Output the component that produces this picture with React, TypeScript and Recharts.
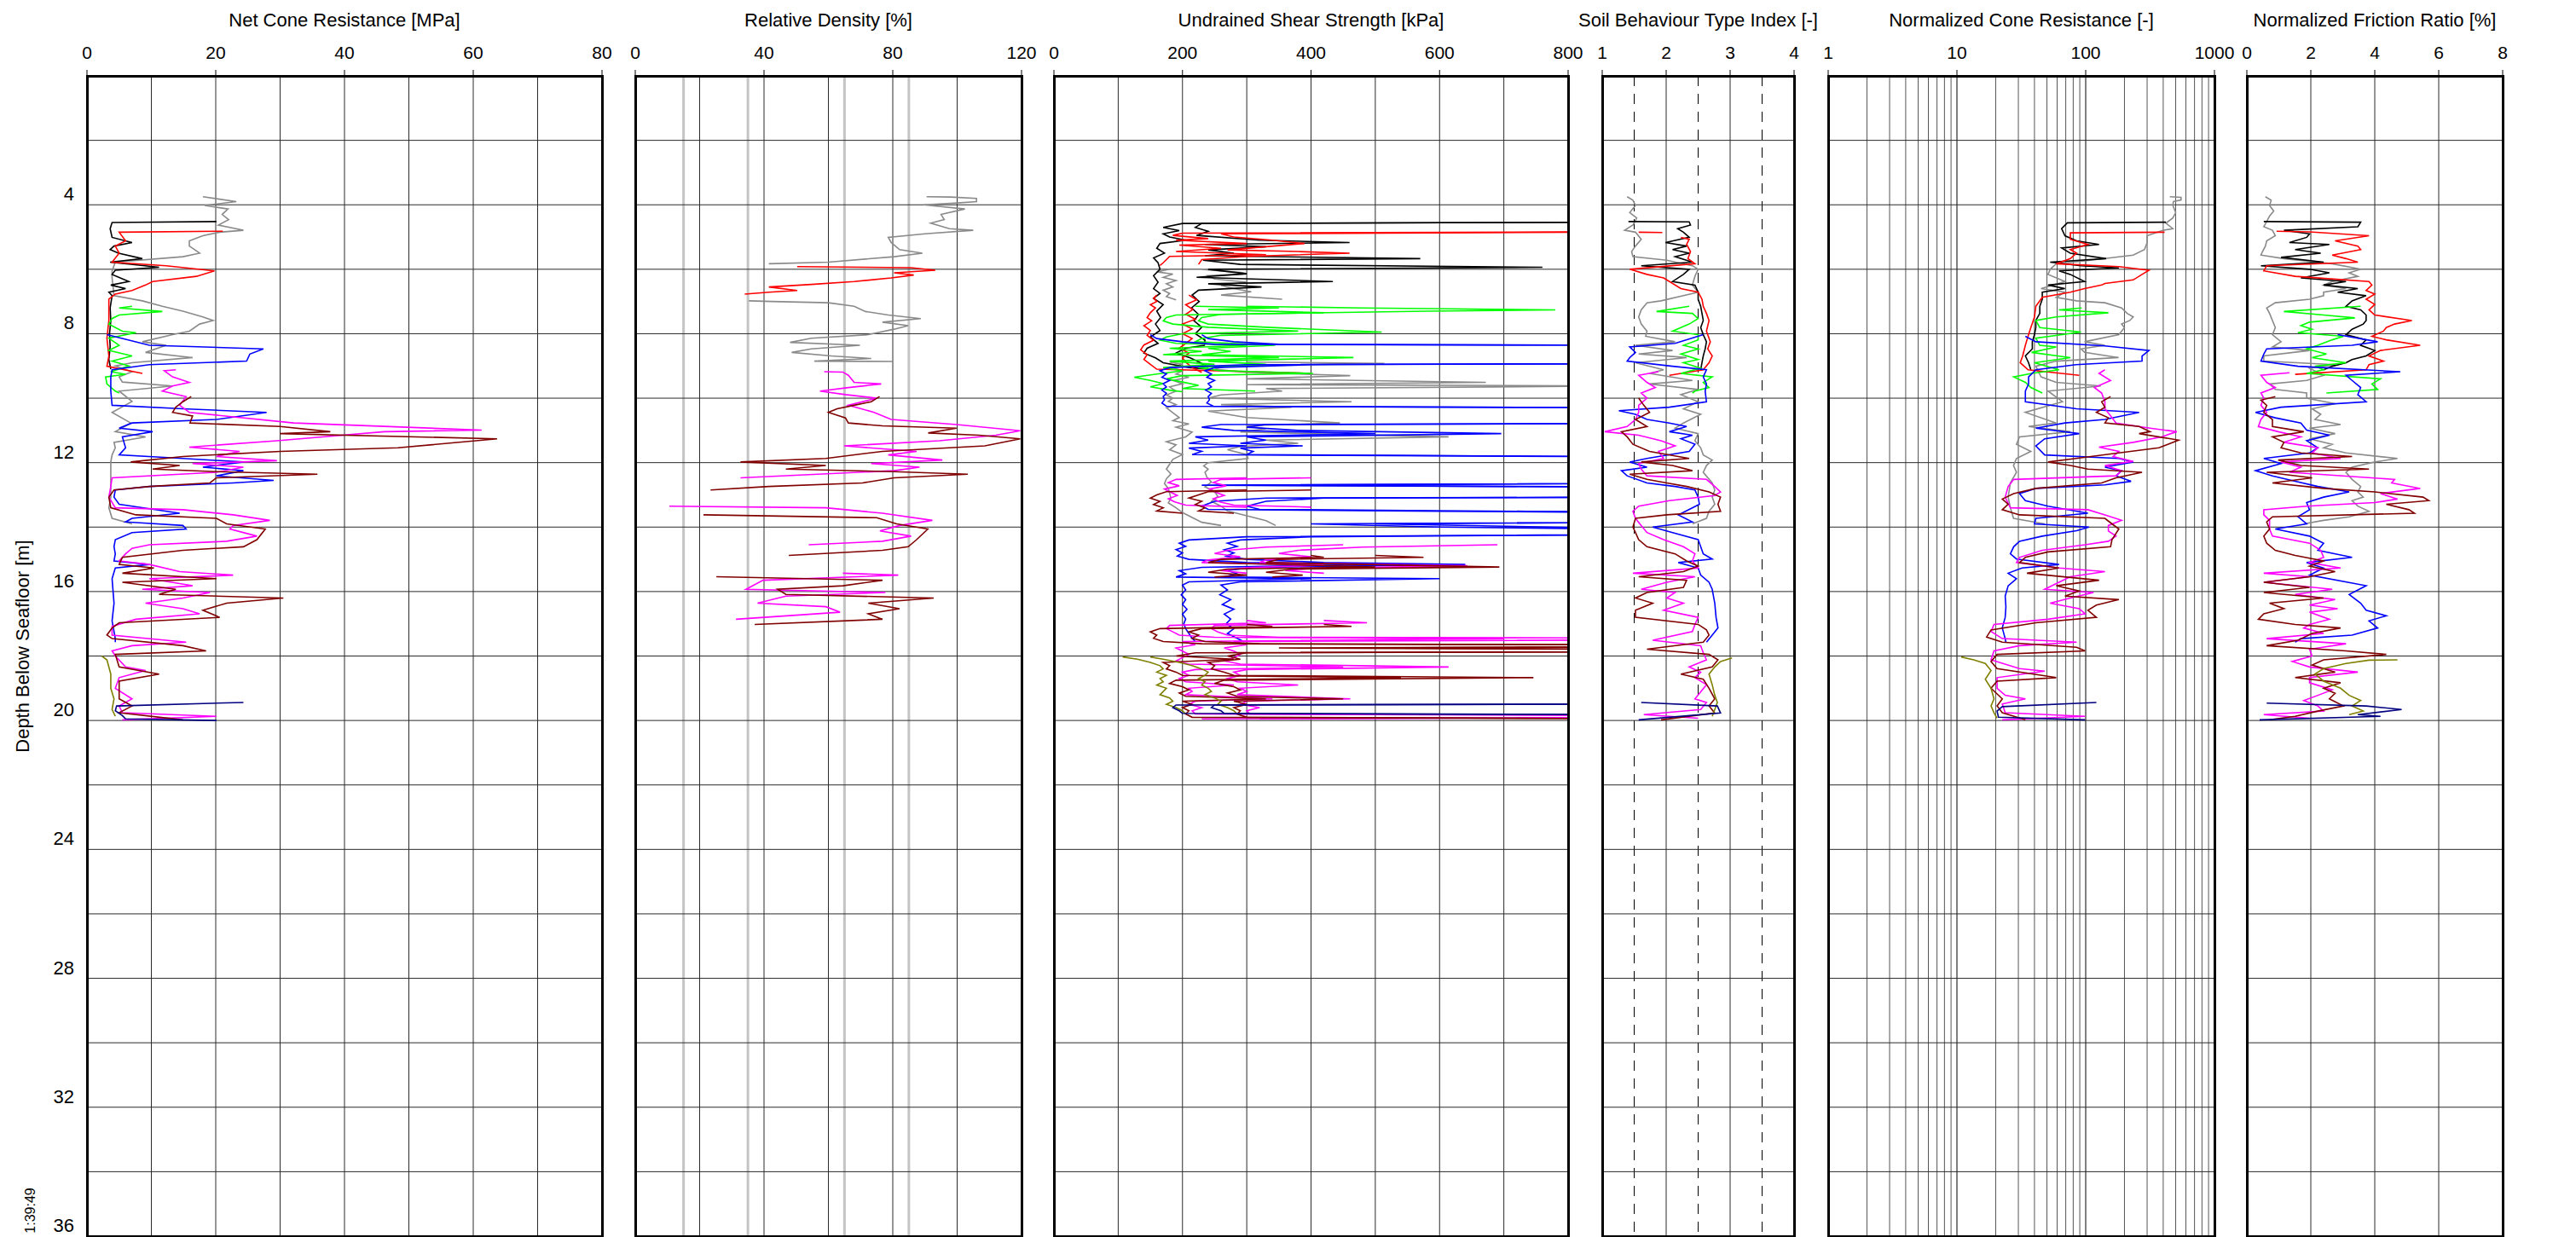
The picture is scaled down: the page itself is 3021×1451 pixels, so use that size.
import React from 'react';
import { LineChart, Line, XAxis, YAxis, ReferenceLine } from 'recharts';

type Pt = [number, number | null];

// ---------- Net Cone Resistance [MPa] ----------
const qnGrey: Pt[] = [[3.75,18],[3.9,23.2],[4.02,18.3],[4.13,21.9],[4.3,21],[4.46,22],[4.63,20.4],[4.79,24.3],[4.85,20.6],[4.96,18],[5.12,15.9],[5.28,15.9],[5.5,17.5],[5.61,14.9],[5.78,4.4],[6.05,3.9],[6.27,3.9],[6.82,4.2],[6.98,8.6],[7.15,11.7],[7.3,14.9],[7.48,18],[7.59,19.6],[7.7,17.5],[7.92,15.9],[8.03,13.3],[8.25,8.6],[8.36,12.3],[8.58,9.1],[8.74,16.4],[8.9,7],[9.0,4.4],[9.18,7],[9.34,5],[9.5,5.5],[9.62,13.3],[9.78,5],[10.1,7],[10.44,3.9],[10.77,6.8],[11.04,4.4],[11.2,9.1],[11.37,4.2],[11.54,4.4],[11.76,3.9],[11.98,3.7],[12.5,3.7],[13.07,3.7],[13.4,3.4],[13.73,3.9],[13.9,7.0]];
const qnBlack: Pt[] = [[4.52,20.1],[4.55,3.9],[4.74,3.6],[5.01,3.9],[5.17,7],[5.28,4.2],[5.39,3.6],[5.5,4.9],[5.67,8.6],[5.78,3.6],[5.94,11.2],[6.03,4.4],[6.16,3.9],[6.38,6.5],[6.49,3.7],[6.6,6],[6.71,3.4],[6.82,3.9],[7.2,3.6],[7.6,3.7],[8.0,3.5],[8.4,3.6],[8.8,3.4],[9.1,3.7]];
const qnRed: Pt[] = [[4.82,21.1],[4.85,5],[5.12,6],[5.28,4.4],[5.5,5],[5.78,3.9],[5.89,12.3],[6.05,19.8],[6.22,17],[6.38,10.2],[6.49,9.1],[6.66,7],[6.77,4.4],[6.93,3.4],[7.59,3.4],[8.14,3.1],[8.69,3.4],[9.01,3.1],[9.23,8.6]];
const qnGreen: Pt[] = [[7.15,7],[7.2,5],[7.31,11.7],[7.42,5],[7.53,3.9],[7.7,3.4],[7.92,5.5],[7.97,7.6],[8.14,3.4],[8.36,5],[8.52,3.4],[8.69,7],[8.85,3.9],[9.0,6.5],[9.18,3.7],[9.26,6],[9.34,2.9],[9.56,3.1],[9.78,4.4],[9.84,5]];
const qnBlue: Pt[] = [[8.03,3.1],[8.36,9.7],[8.47,27.4],[8.63,25.3],[8.85,24.8],[8.96,9.7],[9.12,3.9],[9.34,3.7],[9.78,3.7],[10.22,3.9],[10.33,14.9],[10.44,27.9],[10.66,20.1],[10.77,7],[10.93,5],[11.04,10.2],[11.2,5.5],[11.54,6],[11.76,5],[11.87,14.9],[11.98,24.3],[12.14,18],[12.25,24.3],[12.41,20.1],[12.55,29],[12.63,22.7],[12.74,9.7],[12.85,4.4],[13.07,4.2],[13.29,5],[13.57,14.4],[13.73,7],[13.84,6],[13.95,14.9],[14.06,15.4],[14.17,7],[14.39,4.4],[14.61,4.2],[14.83,4.4],[15.05,4.2],[15.16,9.7],[15.27,4.4],[15.6,3.9],[16.36,4.2],[16.91,3.9],[17.46,4.4],[17.57,4.4]];
const qnNavy: Pt[] = [[19.44,24.3],[19.55,4.6],[19.7,4.4],[19.85,5.5],[19.95,6],[20.0,20.1]];
const qnMagenta: Pt[] = [[9.12,13.8],[9.15,12],[9.34,13.3],[9.51,15.9],[9.62,13.3],[9.78,11.7],[9.95,15.4],[10.22,14.4],[10.44,15.9],[10.77,32.1],[10.99,61.3],[11.04,46.2],[11.32,29.5],[11.52,15.9],[11.65,23.7],[11.81,20.1],[11.94,29.5],[12.03,16.4],[12.14,24.3],[12.3,20.1],[12.47,3.9],[12.74,3.7],[13.07,3.4],[13.4,4.4],[13.46,14.9],[13.62,22.7],[13.79,28.4],[13.95,22.7],[14.06,22.2],[14.28,26.4],[14.44,21.7],[14.55,9.7],[14.66,7],[14.83,6],[15.05,5],[15.16,9.7],[15.38,14.4],[15.49,22.7],[15.6,9.7],[15.82,16.4],[15.93,8.6],[16.03,19.1],[16.2,14.9],[16.36,9.1],[16.53,14.9],[16.69,17.5],[16.86,7.6],[17.08,3.9],[17.35,3.9],[17.57,15.4],[17.68,7],[17.84,3.9],[18.0,4.4],[18.34,6],[18.45,9.1],[18.67,5],[19.0,4.4],[19.33,7],[19.55,5],[19.76,5.5],[19.87,20.1],[19.98,5.5]];
const qnMaroon: Pt[] = [[9.95,16.2],[10.11,14.9],[10.28,13.8],[10.44,13.3],[10.55,16.4],[10.77,16],[10.88,30],[11.04,37.8],[11.1,30],[11.26,63.7],[11.54,48.3],[11.65,30],[11.81,14.9],[11.98,6.8],[12.09,14.4],[12.2,10.2],[12.28,20.1],[12.36,35.8],[12.47,20.1],[12.63,19.1],[12.74,9.7],[12.85,4.2],[13.07,3.4],[13.4,3.7],[13.62,7.6],[13.73,20.1],[13.9,21.7],[14.06,27.7],[14.39,26.4],[14.61,24.3],[14.72,14.9],[14.94,5.5],[15.16,5],[15.27,10.4],[15.43,5.5],[15.6,20.1],[15.71,5.5],[15.93,13.8],[16.09,11.2],[16.2,30.5],[16.36,21.7],[16.58,18],[16.8,20.6],[16.97,5],[17.13,3.9],[17.35,3.1],[17.46,3.9],[17.68,14.9],[17.84,18.5],[17.95,4.4],[18.34,5],[18.56,11.2],[18.78,5],[19.33,5],[19.55,7],[19.76,5],[19.98,14.9]];
const qnOlive: Pt[] = [[18.0,2.3],[18.12,3.1],[18.56,3.7],[19.0,3.7],[19.33,4.2],[19.66,3.9],[19.87,4.4]];

// ---------- Relative Density [%] ----------
const drGrey: Pt[] = [[3.75,90.5],[3.76,98],[3.8,106],[3.9,106],[3.95,99],[4.0,89.6],[4.13,102.4],[4.3,95],[4.46,96],[4.57,91.8],[4.74,97.6],[4.79,105],[4.9,90],[5.01,78.6],[5.17,79.5],[5.39,82.1],[5.5,89.2],[5.61,80.4],[5.78,60],[5.83,41.5],[5.85,null],[6.98,35.3],[7.0,42.4],[7.04,60],[7.15,68],[7.31,71.5],[7.42,78.6],[7.53,88.7],[7.64,76.8],[7.75,84.8],[7.86,80.4],[8.03,72.4],[8.14,54.7],[8.27,48.1],[8.36,69.8],[8.47,54.7],[8.58,48.6],[8.69,60.9],[8.77,73.3],[8.85,55.6],[8.86,80]];
const drRed: Pt[] = [[5.92,50.3],[5.95,85.7],[6.03,93.2],[6.11,80.4],[6.18,86.5],[6.27,79.5],[6.38,68],[6.47,54.7],[6.55,41.5],[6.66,50.3],[6.71,41.5],[6.77,34]];
const drMagenta: Pt[] = [[9.18,58.7],[9.19,64.5],[9.29,66.2],[9.51,68],[9.56,76.4],[9.67,66.2],[9.78,57.4],[9.89,65.3],[10.0,75],[10.22,66.2],[10.44,74.2],[10.66,79.5],[10.82,99.8],[11.01,119.6],[11.15,112],[11.32,94.5],[11.48,64.9],[11.65,87.4],[11.76,78.6],[11.92,95.4],[12.03,73.3],[12.14,88.3],[12.25,80.4],[12.47,32.7],[12.55,null],[13.35,10.6],[13.4,59.2],[13.57,76.8],[13.79,92.3],[13.95,82.1],[14.12,76],[14.28,85.7],[14.44,76.8],[14.55,53.9],[14.6,null],[15.43,64.5],[15.49,81.7],[15.65,39.7],[15.93,34.4],[16.03,77.7],[16.14,46.8],[16.36,38],[16.47,59.2],[16.64,63.6],[16.86,31.3]];
const drMaroon: Pt[] = [[9.95,75.9],[10.11,73.3],[10.22,68],[10.33,62.7],[10.44,60],[10.61,65.3],[10.77,66.2],[10.86,76.8],[10.93,99.8],[11.08,91],[11.15,106.8],[11.26,119.6],[11.48,108.6],[11.65,76.8],[11.87,59.2],[11.98,32.7],[12.09,59.2],[12.2,46.8],[12.28,80.4],[12.36,103.3],[12.47,80.4],[12.63,70.6],[12.74,41.5],[12.85,23.4],[12.9,null],[13.62,21.2],[13.71,75],[13.9,81.2],[14.06,90.9],[14.39,87.4],[14.61,84.8],[14.72,76.8],[14.88,47.7],[14.95,null],[15.54,25.2],[15.65,76.8],[15.82,64.5],[15.93,44.2],[16.09,46.8],[16.2,92.7],[16.36,72.4],[16.53,82.1],[16.69,72.4],[16.86,76.8],[17.02,37.1]];

// ---------- Undrained Shear Strength [kPa] (two estimates per test) ----------
const suBlackLo: Pt[] = [[4.52,1200],[4.58,200],[4.7,170],[4.8,195],[4.9,170],[5.0,180],[5.1,205],[5.2,165],[5.35,160],[5.5,172],[5.65,155],[5.8,162],[6.0,165],[6.2,155],[6.4,162],[6.6,155],[6.75,165],[6.9,155],[7.1,170],[7.3,160],[7.5,166],[7.7,158],[7.9,165],[8.1,150],[8.3,162],[8.45,145],[8.6,140],[8.75,158],[8.9,170],[9.05,210],[9.1,240]];
const suBlackHi: Pt[] = [[4.52,1200],[4.58,230],[4.7,220],[4.82,240],[4.95,222],[5.1,320],[5.17,460],[5.23,235],[5.3,330],[5.4,240],[5.5,280],[5.58,235],[5.67,570],[5.72,232],[5.85,290],[5.94,760],[6.0,240],[6.14,300],[6.25,222],[6.38,434],[6.45,240],[6.55,323],[6.65,225],[6.8,215],[7.0,226],[7.2,214],[7.4,225],[7.6,218],[7.8,230],[8.0,220],[8.2,235],[8.36,234],[8.45,205],[8.6,190],[8.75,212],[8.9,228],[9.05,240]];
const suRedLo: Pt[] = [[4.82,1200],[4.88,200],[4.95,185],[5.05,240],[5.1,190],[5.2,300],[5.25,195],[5.35,260],[5.45,190],[5.55,330],[5.6,180],[5.7,175],[5.8,170],[5.88,165],[5.9,null],[6.8,160],[6.9,155],[7.0,160],[7.1,150],[7.2,158],[7.35,150],[7.5,145],[7.6,152],[7.75,140],[7.9,150],[8.05,145],[8.2,155],[8.35,140],[8.5,135],[8.65,145],[8.8,140],[8.95,150],[9.1,160],[9.23,400]];
const suRedHi: Pt[] = [[4.82,1200],[4.9,260],[5.0,280],[5.1,340],[5.2,390],[5.3,330],[5.4,270],[5.45,380],[5.5,460],[5.6,300],[5.7,230],[5.85,225],[5.9,null],[6.8,210],[6.95,222],[7.1,205],[7.25,216],[7.4,205],[7.55,220],[7.7,200],[7.85,215],[8.0,200],[8.15,215],[8.3,205],[8.45,195],[8.6,210],[8.75,200],[8.9,206],[9.05,215],[9.2,230]];
const suGreyLo: Pt[] = [[6.0,180],[6.08,160],[6.15,185],[6.25,170],[6.35,190],[6.45,175],[6.55,185],[6.65,170],[6.75,180],[6.85,175],[6.95,190],[6.97,null],[8.88,180],[8.95,200],[9.05,185],[9.15,200],[9.25,190],[9.35,210],[9.45,185],[9.55,200],[9.65,180],[9.78,190],[9.9,175],[10.0,185],[10.1,178],[10.2,190],[10.3,175],[10.45,185],[10.6,195],[10.7,185],[10.8,210],[10.9,190],[11.05,215],[11.2,205],[11.35,175],[11.45,190],[11.6,180],[11.75,200],[11.9,185],[12.05,180],[12.2,175],[12.35,182],[12.5,175],[12.65,172],[12.8,178],[12.95,180],[13.1,182],[13.25,178],[13.4,190],[13.55,200],[13.7,215],[13.85,230],[13.95,260]];
const suGreyHi: Pt[] = [[6.0,230],[6.1,290],[6.14,300],[6.2,240],[6.3,250],[6.4,300],[6.5,260],[6.6,280],[6.7,307],[6.8,260],[6.93,355],[6.97,null],[8.88,300],[8.92,514],[9.0,270],[9.1,250],[9.2,300],[9.3,461],[9.4,300],[9.51,672],[9.58,300],[9.62,900],[9.7,330],[9.78,355],[9.9,260],[10.0,240],[10.11,463],[10.2,260],[10.28,370],[10.4,240],[10.5,270],[10.6,300],[10.77,445],[10.85,300],[10.95,330],[11.05,290],[11.2,614],[11.3,330],[11.4,380],[11.5,290],[11.6,270],[11.75,300],[11.87,302],[12.0,240],[12.1,233],[12.2,240],[12.3,235],[12.45,238],[12.6,245],[12.75,235],[12.9,250],[13.05,255],[13.2,245],[13.35,260],[13.5,270],[13.65,300],[13.8,330],[13.95,345]];
const suGreenLo: Pt[] = [[7.15,220],[7.2,350],[7.25,240],[7.35,420],[7.42,190],[7.5,175],[7.6,170],[7.7,185],[7.8,240],[7.92,380],[8.0,200],[8.1,175],[8.2,165],[8.3,190],[8.36,300],[8.45,180],[8.55,230],[8.65,170],[8.74,350],[8.85,180],[8.95,250],[9.05,170],[9.15,200],[9.25,160],[9.35,125],[9.45,150],[9.55,170],[9.65,150],[9.75,180],[9.8,200]];
const suGreenHi: Pt[] = [[7.15,300],[7.2,480],[7.26,780],[7.3,580],[7.4,260],[7.5,230],[7.6,225],[7.7,240],[7.8,330],[7.95,510],[8.05,260],[8.15,230],[8.25,220],[8.36,344],[8.45,240],[8.55,275],[8.65,230],[8.74,466],[8.85,240],[8.95,330],[9.05,225],[9.15,260],[9.23,403],[9.3,200],[9.4,175],[9.5,200],[9.6,225],[9.7,200],[9.78,313]];
const suBlueLo: Pt[] = [[8.03,150],[8.15,160],[8.25,200],[8.33,250],[8.38,1400],[8.9,1400],[8.96,300],[9.05,180],[9.15,165],[9.25,175],[9.35,168],[9.45,180],[9.55,170],[9.65,175],[9.75,168],[9.85,175],[9.95,170],[10.05,172],[10.15,168],[10.25,175],[10.33,1400],[10.76,1400],[10.82,260],[10.9,230],[11.0,280],[11.1,500],[11.2,220],[11.3,240],[11.4,210],[11.48,300],[11.55,210],[11.65,230],[11.75,215],[11.87,1400],[12.6,1400],[12.7,230],[12.8,1400],[13.05,1400],[13.1,330],[13.2,250],[13.35,230],[13.45,240],[13.51,600],[13.6,1400],[13.8,1400],[13.9,400],[14.0,600],[14.17,1400],[14.3,300],[14.4,210],[14.5,195],[14.6,205],[14.7,190],[14.8,200],[14.9,192],[15.0,210],[15.1,300],[15.16,500],[15.25,230],[15.35,195],[15.45,205],[15.55,190],[15.6,400],[15.7,210],[15.8,200],[15.95,205],[16.1,198],[16.25,205],[16.4,200],[16.55,207],[16.7,200],[16.85,205],[17.0,202],[17.15,205],[17.3,210],[17.45,215],[17.55,220]];
const suBlueHi: Pt[] = [[8.03,230],[8.15,240],[8.25,280],[8.33,350],[8.38,1400],[8.9,1400],[8.96,400],[9.05,250],[9.15,235],[9.25,245],[9.35,238],[9.45,250],[9.55,240],[9.65,245],[9.75,236],[9.85,245],[9.95,240],[10.05,242],[10.15,238],[10.25,248],[10.33,1400],[10.76,1400],[10.82,330],[10.9,300],[11.0,380],[11.1,696],[11.2,300],[11.3,330],[11.4,290],[11.48,387],[11.55,290],[11.65,310],[11.75,300],[11.87,1400],[12.6,1400],[12.7,300],[12.8,1400],[13.05,1400],[13.1,420],[13.2,330],[13.35,300],[13.45,320],[13.51,735],[13.6,1400],[13.8,1400],[13.9,500],[14.0,778],[14.17,1400],[14.3,400],[14.4,290],[14.5,270],[14.6,285],[14.7,265],[14.8,280],[14.9,268],[15.0,300],[15.1,420],[15.16,640],[15.25,310],[15.35,270],[15.45,285],[15.55,265],[15.6,600],[15.7,290],[15.8,260],[15.95,270],[16.1,258],[16.25,275],[16.4,262],[16.55,280],[16.7,265],[16.85,275],[17.0,268],[17.15,280],[17.3,270],[17.45,285],[17.55,295]];
const suNavyLo: Pt[] = [[19.47,1400],[19.52,190],[19.6,185],[19.7,195],[19.78,200],[19.85,1400]];
const suNavyHi: Pt[] = [[19.47,1400],[19.52,250],[19.6,245],[19.7,260],[19.78,265],[19.85,1400]];
const suMagentaLo: Pt[] = [[12.47,300],[12.52,190],[12.62,178],[12.72,195],[12.82,172],[12.92,182],[13.02,192],[13.12,178],[13.22,188],[13.32,205],[13.38,300],[13.4,null],[14.55,450],[14.62,330],[14.72,270],[14.82,250],[14.92,290],[15.02,240],[15.1,230],[15.18,420],[15.26,300],[15.35,260],[15.43,300],[15.45,null],[16.9,300],[16.97,330],[17.05,180],[17.15,175],[17.25,185],[17.35,195],[17.42,250],[17.46,700],[17.55,200],[17.65,220],[17.75,190],[17.85,200],[17.95,210],[18.05,200],[18.15,190],[18.25,210],[18.34,450],[18.42,220],[18.5,200],[18.6,210],[18.7,195],[18.8,205],[18.9,280],[19.0,210],[19.1,215],[19.2,205],[19.33,340],[19.4,220],[19.5,210],[19.6,230],[19.7,215],[19.8,220],[19.87,1400],[19.95,230]];
const suMagentaHi: Pt[] = [[12.47,400],[12.52,260],[12.62,248],[12.72,268],[12.82,242],[12.92,252],[13.02,265],[13.12,248],[13.22,258],[13.32,280],[13.38,400],[13.4,null],[14.55,690],[14.62,480],[14.72,380],[14.82,350],[14.92,400],[15.02,330],[15.1,320],[15.2,643],[15.28,400],[15.35,360],[15.43,420],[15.45,null],[16.9,420],[16.97,487],[17.05,250],[17.15,245],[17.25,255],[17.35,270],[17.42,350],[17.46,1400],[17.55,280],[17.65,300],[17.75,265],[17.85,280],[17.95,290],[18.05,280],[18.15,265],[18.25,290],[18.34,614],[18.42,300],[18.5,280],[18.6,290],[18.7,270],[18.8,285],[18.9,380],[19.0,290],[19.1,300],[19.2,285],[19.33,461],[19.4,300],[19.5,290],[19.6,320],[19.7,300],[19.8,305],[19.87,1400],[19.95,320]];
const suMaroonLo: Pt[] = [[12.85,300],[12.9,175],[13.0,160],[13.1,150],[13.2,165],[13.3,155],[13.4,170],[13.5,160],[13.57,200],[13.6,null],[14.88,400],[14.94,420],[15.0,260],[15.1,240],[15.24,500],[15.3,270],[15.4,240],[15.49,300],[15.55,250],[15.6,null],[17.02,300],[17.08,340],[17.15,165],[17.25,150],[17.35,160],[17.45,155],[17.55,170],[17.62,230],[17.68,1400],[17.75,350],[17.84,1400],[17.9,220],[18.0,190],[18.1,280],[18.2,170],[18.3,180],[18.4,175],[18.5,190],[18.6,200],[18.67,540],[18.75,190],[18.85,180],[18.95,200],[19.05,210],[19.15,195],[19.25,205],[19.33,330],[19.4,200],[19.5,215],[19.6,200],[19.7,210],[19.8,205],[19.9,215],[19.98,1400]];
const suMaroonHi: Pt[] = [[12.85,400],[12.9,240],[13.0,225],[13.1,210],[13.2,230],[13.3,220],[13.4,235],[13.5,225],[13.57,280],[13.6,null],[14.88,500],[14.94,575],[15.0,350],[15.1,330],[15.24,693],[15.3,370],[15.4,330],[15.49,387],[15.55,340],[15.6,null],[17.02,420],[17.08,463],[17.15,230],[17.25,210],[17.35,225],[17.45,215],[17.55,235],[17.62,320],[17.68,1400],[17.75,480],[17.84,1400],[17.9,300],[18.0,270],[18.1,290],[18.2,240],[18.3,250],[18.4,245],[18.5,265],[18.6,280],[18.67,746],[18.75,265],[18.85,250],[18.95,280],[19.05,290],[19.15,270],[19.25,285],[19.33,450],[19.4,280],[19.5,300],[19.6,280],[19.7,290],[19.8,285],[19.9,300],[19.98,1400]];
const suOliveLo: Pt[] = [[18.03,107],[18.1,130],[18.2,150],[18.3,165],[18.4,170],[18.5,160],[18.6,175],[18.7,165],[18.8,170],[18.9,160],[19.0,175],[19.1,170],[19.2,165],[19.3,180],[19.4,185],[19.5,175],[19.6,190],[19.7,200],[19.8,205]];
const suOliveHi: Pt[] = [[18.03,150],[18.1,170],[18.2,195],[18.3,215],[18.4,230],[18.5,240],[18.6,235],[18.7,225],[18.8,235],[18.9,230],[19.0,240],[19.1,245],[19.2,235],[19.3,250],[19.4,260],[19.5,255],[19.6,270],[19.7,280],[19.8,285]];

// ---------- Soil Behaviour Type Index [-] ----------
const icGrey: Pt[] = [[3.75,1.39],[3.86,1.48],[4.02,1.52],[4.24,1.43],[4.41,1.54],[4.63,1.48],[4.79,1.35],[4.85,1.52],[5.07,1.61],[5.28,1.52],[5.45,1.46],[5.61,1.48],[5.72,2.01],[5.89,2.41],[6.0,2.5],[6.22,2.45],[6.49,2.41],[6.71,2.5],[6.82,2.27],[6.98,1.92],[7.04,1.7],[7.26,1.61],[7.48,1.57],[7.7,1.61],[7.92,1.7],[8.08,1.68],[8.25,2.14],[8.36,1.52],[8.52,2.1],[8.63,1.57],[8.74,2.32],[8.9,1.52],[9.12,1.96],[9.23,1.74],[9.45,2.41],[9.56,1.74],[9.73,2.5],[9.89,2.23],[10.11,2.5],[10.33,2.27],[10.5,2.54],[10.77,2.27],[10.93,2.14],[11.1,2.5],[11.32,2.45],[11.54,2.54],[11.76,2.58],[11.92,2.72],[12.09,2.63],[12.3,2.58],[12.63,2.72],[12.85,2.76],[13.07,2.72],[13.29,2.76],[13.51,2.67],[13.73,2.63],[13.9,2.41]];
const icBlack: Pt[] = [[4.52,1.41],[4.53,2.36],[4.63,2.38],[4.74,2.18],[4.85,2.27],[5.01,2.36],[5.17,1.99],[5.28,2.32],[5.39,2.1],[5.5,2.36],[5.61,2.14],[5.78,2.41],[5.89,1.61],[6.0,2.36],[6.16,2.27],[6.38,2.1],[6.49,2.45],[6.71,2.5],[6.93,2.5],[7.15,2.54],[7.37,2.56],[7.59,2.58],[7.81,2.54],[8.03,2.58],[8.25,2.63],[8.47,2.61],[8.69,2.58],[8.9,2.56],[9.12,2.54]];
const icRed: Pt[] = [[4.85,1.57],[4.86,1.94],[4.9,null],[5.01,2.23],[5.07,2.36],[5.23,2.32],[5.45,2.38],[5.67,2.34],[5.83,2.45],[6.0,1.43],[6.16,1.7],[6.27,1.96],[6.6,2.23],[6.71,2.5],[6.93,2.56],[7.15,2.58],[7.37,2.63],[7.59,2.67],[7.92,2.63],[8.25,2.69],[8.47,2.65],[8.69,2.72],[8.9,2.67],[9.12,2.58],[9.29,2.05]];
const icGreen: Pt[] = [[7.15,2.36],[7.31,1.85],[7.37,2.41],[7.53,2.5],[7.7,2.36],[7.92,2.1],[8.03,2.5],[8.19,2.5],[8.36,2.27],[8.47,2.5],[8.63,2.23],[8.8,2.5],[8.9,2.27],[9.07,2.54],[9.23,2.23],[9.34,2.72],[9.51,2.58],[9.67,2.67],[9.78,2.45],[9.84,2.41]];
const icBlue: Pt[] = [[8.03,2.58],[8.3,2.14],[8.41,1.43],[8.58,1.52],[8.74,1.43],[8.85,1.39],[9.01,2.1],[9.12,2.63],[9.34,2.58],[9.56,2.63],[9.78,2.61],[10.11,2.63],[10.28,2.05],[10.39,1.26],[10.5,1.52],[10.66,1.7],[10.77,2.05],[10.88,2.32],[11.04,2.05],[11.15,2.41],[11.26,2.23],[11.43,2.45],[11.65,2.36],[11.87,1.7],[11.98,1.43],[12.14,1.7],[12.25,1.3],[12.41,1.39],[12.63,1.7],[12.74,2.14],[12.85,2.45],[13.07,2.5],[13.29,2.52],[13.62,2.19],[13.84,2.41],[14.0,1.79],[14.17,2.1],[14.39,2.5],[14.61,2.54],[14.83,2.58],[14.99,2.72],[15.1,2.19],[15.27,2.5],[15.49,2.54],[15.71,2.67],[15.93,2.72],[16.36,2.76],[16.8,2.78],[17.13,2.81],[17.35,2.72],[17.57,2.63]];
const icNavy: Pt[] = [[19.44,1.61],[19.55,2.8],[19.77,2.85],[19.98,1.57]];
const icMagenta: Pt[] = [[9.18,1.88],[9.29,1.57],[9.51,1.7],[9.67,1.83],[9.84,1.61],[10.0,1.7],[10.22,1.57],[10.44,1.57],[10.66,1.52],[10.88,1.39],[11.04,1.04],[11.15,1.57],[11.32,1.92],[11.48,2.14],[11.65,1.88],[11.87,1.96],[12.03,1.57],[12.2,1.61],[12.41,1.7],[12.52,2.63],[12.74,2.76],[12.91,2.85],[13.02,2.76],[13.18,2.05],[13.35,1.57],[13.51,1.48],[13.73,1.52],[13.95,1.61],[14.17,1.7],[14.39,1.96],[14.61,2.27],[14.83,2.45],[15.05,2.41],[15.27,2.5],[15.43,1.48],[15.54,2.45],[15.71,2.01],[15.93,1.61],[16.03,2.14],[16.2,2.01],[16.36,2.27],[16.58,1.96],[16.8,2.5],[17.02,2.45],[17.24,2.41],[17.51,1.79],[17.68,2.54],[17.9,2.58],[18.12,2.63],[18.34,2.36],[18.5,2.54],[18.67,2.45],[18.89,2.63],[19.11,2.54],[19.33,2.45],[19.44,2.63],[19.66,2.54],[19.82,1.65],[19.93,2.5]];
const icMaroon: Pt[] = [[10.0,1.57],[10.22,1.65],[10.44,1.74],[10.66,1.52],[10.88,1.7],[11.04,1.3],[11.2,1.39],[11.43,1.48],[11.65,1.74],[11.87,2.36],[11.98,1.61],[12.09,2.1],[12.25,2.41],[12.36,1.43],[12.52,1.7],[12.63,2.01],[12.74,2.32],[12.91,2.67],[13.07,2.85],[13.29,2.81],[13.51,2.85],[13.62,2.01],[13.73,1.52],[14.0,1.48],[14.17,1.52],[14.39,1.57],[14.61,1.7],[14.83,2.14],[15.05,2.32],[15.21,2.5],[15.38,2.27],[15.54,1.57],[15.65,2.32],[15.87,2.27],[16.03,1.7],[16.2,1.52],[16.36,1.79],[16.58,1.52],[16.8,1.52],[17.02,2.5],[17.19,2.63],[17.35,2.67],[17.57,2.58],[17.79,1.7],[17.95,2.67],[18.12,2.81],[18.34,2.72],[18.56,2.23],[18.72,2.58],[19.0,2.67],[19.33,2.76],[19.55,2.67],[19.77,2.76],[19.98,1.92]];
const icOlive: Pt[] = [[18.06,3.03],[18.17,2.85],[18.34,2.76],[18.56,2.67],[18.89,2.72],[19.22,2.76],[19.44,2.8],[19.66,2.76],[19.87,2.72]];

// ---------- Normalized Cone Resistance [-] ----------
const qtGrey: Pt[] = [[3.75,450],[3.77,550],[3.85,550],[3.9,480],[4.02,475],[4.24,500],[4.41,475],[4.57,420],[4.74,475],[4.79,400],[4.96,300],[5.17,300],[5.39,286],[5.56,234],[5.72,109],[5.83,59],[6.0,53],[6.16,51],[6.38,69],[6.6,45],[6.71,69],[6.87,59],[6.98,85],[7.04,141],[7.2,190],[7.37,210],[7.48,234],[7.59,220],[7.7,190],[7.81,200],[8.03,181],[8.25,98],[8.36,141],[8.47,92],[8.58,98],[8.74,180],[8.85,59],[9.01,41],[9.34,45],[9.51,59],[9.62,131],[9.78,51],[10.11,66],[10.44,34],[10.77,59],[10.88,36],[11.04,76],[11.2,30.6],[11.43,29],[11.65,37.5],[11.87,29],[12.09,27.5],[12.3,29],[12.63,26],[13.07,25],[13.4,26],[13.73,27.5],[13.9,48]];
const qtBlack: Pt[] = [[4.54,420],[4.56,72],[4.74,65],[4.96,69],[5.12,85],[5.23,127],[5.34,65],[5.5,76],[5.67,144],[5.78,53],[5.89,92],[5.96,181],[6.05,62],[6.16,76],[6.38,98],[6.49,51],[6.6,69],[6.71,46],[6.93,46],[7.15,44],[7.37,44],[7.59,41],[7.81,41],[8.03,40],[8.25,38.5],[8.47,38.5],[8.69,34],[8.9,36],[9.12,37.5]];
const qtRed: Pt[] = [[4.85,410],[4.87,76],[5.07,76],[5.23,104],[5.39,76],[5.5,85],[5.67,76],[5.83,59],[5.92,181],[6.03,310],[6.16,274],[6.33,234],[6.44,141],[6.49,133],[6.6,98],[6.71,76],[6.87,46],[7.15,41],[7.48,40],[7.81,37.5],[8.03,36],[8.36,34],[8.69,32.4],[8.9,31],[9.12,35.7],[9.29,89]];
const qtGreen: Pt[] = [[7.2,93],[7.26,62],[7.35,150],[7.48,59],[7.59,41],[7.81,44],[7.95,92],[8.14,41],[8.36,44],[8.41,59],[8.58,38],[8.74,76],[8.9,40],[9.12,62],[9.23,38],[9.34,27.6],[9.51,34],[9.67,37.5],[9.84,46]];
const qtBlue: Pt[] = [[8.08,34],[8.25,41],[8.38,141],[8.52,310],[8.69,274],[8.85,274],[8.96,84],[9.12,41],[9.34,36],[9.56,36],[9.78,34],[10.11,34],[10.33,85],[10.44,260],[10.66,141],[10.77,69],[10.93,41],[11.1,89],[11.26,48],[11.48,41],[11.76,48],[11.87,181],[11.98,234],[12.14,141],[12.25,190],[12.41,172],[12.58,225],[12.69,141],[12.8,41],[12.96,30.6],[13.18,34],[13.35,51],[13.57,104],[13.73,41],[13.9,40],[14.0,106],[14.11,85],[14.28,46],[14.44,30.6],[14.61,27.6],[14.83,26],[14.99,29],[15.16,62],[15.27,32],[15.43,25],[15.6,29],[15.82,25],[16.14,23.7],[16.47,24],[16.8,23.7],[17.13,22.5],[17.46,23.7],[17.57,24]];
const qtNavy: Pt[] = [[19.44,121],[19.57,22.5],[19.71,20.5],[19.9,21],[19.98,99]];
const qtMagenta: Pt[] = [[9.12,141],[9.23,127],[9.45,156],[9.67,117],[9.84,133],[10.11,141],[10.33,141],[10.55,156],[10.77,172],[10.93,316],[11.04,510],[11.2,388],[11.37,234],[11.52,127],[11.65,181],[11.81,163],[11.96,234],[12.09,141],[12.25,190],[12.41,172],[12.52,27.6],[12.74,25],[13.07,23.7],[13.4,26],[13.46,104],[13.62,141],[13.79,190],[13.95,150],[14.12,150],[14.28,172],[14.44,150],[14.55,99],[14.72,46],[14.94,30.6],[15.1,29],[15.27,62],[15.38,141],[15.54,76],[15.71,62],[15.93,48],[16.03,115],[16.2,76],[16.36,53],[16.53,89],[16.69,99],[16.86,51],[17.02,19.4],[17.24,18.4],[17.46,22.5],[17.57,85],[17.68,30.6],[17.84,19.4],[18.12,18.4],[18.39,30.6],[18.47,48],[18.67,20.5],[19.0,20.5],[19.22,23.7],[19.33,34],[19.49,22.5],[19.76,23.7],[19.87,99],[19.98,22.5]];
const qtMaroon: Pt[] = [[9.95,156],[10.11,133],[10.28,141],[10.44,121],[10.61,150],[10.77,141],[10.88,260],[11.04,316],[11.1,260],[11.3,527],[11.54,370],[11.7,181],[11.87,84],[11.98,51],[12.09,76],[12.2,104],[12.3,274],[12.47,172],[12.63,133],[12.8,41],[12.96,27.6],[13.13,22.5],[13.29,25],[13.46,22.5],[13.62,30.6],[13.73,141],[13.9,160],[14.06,181],[14.39,160],[14.61,156],[14.77,51],[14.94,34],[15.1,30.6],[15.27,62],[15.43,35],[15.65,127],[15.82,59],[15.98,89],[16.14,69],[16.25,181],[16.42,121],[16.58,104],[16.8,121],[16.97,41],[17.19,18.4],[17.41,17],[17.57,22.5],[17.73,85],[17.84,99],[17.95,20.5],[18.17,18.4],[18.39,20.5],[18.67,59],[18.78,20.5],[19.0,18.4],[19.33,22.5],[19.55,20.5],[19.76,22.5],[19.98,34]];
const qtOlive: Pt[] = [[18.03,10.8],[18.12,13.5],[18.23,16.6],[18.45,18.4],[18.72,16.6],[19.0,18.4],[19.33,19.4],[19.55,18.4],[19.76,19.4],[19.93,20.5]];

// ---------- Normalized Friction Ratio [%] ----------
const frGrey: Pt[] = [[3.75,0.58],[3.86,0.76],[4.02,0.71],[4.19,0.84],[4.35,0.71],[4.52,0.62],[4.68,0.53],[4.79,0.8],[4.96,0.89],[5.12,0.62],[5.28,0.58],[5.45,0.49],[5.56,0.44],[5.67,1.16],[5.83,2.67],[6.0,3.56],[6.11,3.2],[6.22,3.47],[6.38,2.67],[6.49,2.4],[6.6,3.1],[6.71,2.4],[6.82,2.4],[6.93,1.96],[7.04,0.89],[7.2,0.62],[7.37,0.71],[7.59,0.8],[7.81,0.89],[8.03,0.8],[8.25,1.07],[8.41,0.8],[8.52,1.96],[8.69,0.53],[8.85,0.53],[8.96,2.76],[9.07,1.96],[9.29,2.4],[9.45,1.87],[9.56,0.71],[9.73,0.89],[9.84,1.87],[10.0,1.87],[10.17,2.76],[10.33,2.04],[10.5,2.31],[10.66,2.13],[10.82,2.93],[10.93,1.96],[11.1,2.76],[11.26,1.96],[11.43,2.67],[11.54,2.4],[11.7,3.1],[11.87,4.71],[11.98,4.0],[12.14,3.29],[12.3,3.1],[12.52,3.29],[12.74,3.56],[12.91,3.47],[13.07,3.64],[13.18,3.29],[13.35,3.47],[13.51,3.82],[13.68,3.2],[13.79,2.4],[13.9,1.78]];
const frBlack: Pt[] = [[4.52,0.53],[4.54,3.56],[4.68,3.47],[4.79,1.16],[4.9,1.96],[5.01,1.87],[5.17,1.33],[5.23,2.58],[5.39,1.51],[5.5,2.31],[5.63,1.07],[5.78,2.4],[5.89,0.44],[6.0,1.96],[6.11,2.58],[6.27,1.69],[6.38,3.1],[6.49,2.4],[6.6,3.47],[6.71,2.84],[6.82,3.73],[6.98,3.29],[7.15,3.1],[7.26,3.56],[7.42,3.73],[7.59,3.73],[7.7,3.64],[7.86,3.29],[8.03,3.1],[8.19,3.73],[8.36,3.56],[8.52,4.0],[8.69,3.73],[8.8,3.29],[8.9,3.1],[9.01,2.67],[9.12,2.4]];
const frRed: Pt[] = [[4.82,0.93],[4.84,1.96],[4.96,3.82],[5.12,2.76],[5.28,3.47],[5.39,3.56],[5.56,2.67],[5.67,3.1],[5.78,3.47],[5.89,0.62],[6.05,0.53],[6.22,1.51],[6.38,3.82],[6.49,3.91],[6.66,3.73],[6.77,4.0],[6.93,3.73],[7.09,4.0],[7.26,3.82],[7.42,4.0],[7.59,5.16],[7.7,4.62],[7.81,4.36],[7.92,4.27],[8.08,3.91],[8.19,4.36],[8.36,5.42],[8.52,4.18],[8.69,3.82],[8.85,4.27],[8.96,3.82],[9.12,3.73],[9.26,1.51]];
const frGreen: Pt[] = [[7.15,3.56],[7.31,1.16],[7.42,2.4],[7.51,3.38],[7.64,1.96],[7.75,1.69],[7.86,2.04],[7.97,1.6],[8.08,3.02],[8.19,2.67],[8.36,2.22],[8.47,1.87],[8.63,2.49],[8.74,2.04],[8.9,3.1],[9.01,2.13],[9.12,2.4],[9.23,1.87],[9.4,4.18],[9.56,3.91],[9.73,4.09],[9.84,2.49]];
const frBlue: Pt[] = [[8.03,2.84],[8.25,4.09],[8.36,3.29],[8.47,0.62],[8.63,0.53],[8.85,0.44],[9.01,1.6],[9.18,4.8],[9.29,3.1],[9.45,3.29],[9.67,3.56],[9.89,3.47],[10.11,3.73],[10.28,1.07],[10.44,0.27],[10.61,0.89],[10.77,1.69],[10.99,1.87],[11.15,2.58],[11.32,1.87],[11.54,2.22],[11.7,1.96],[11.87,0.53],[12.03,1.07],[12.25,0.27],[12.41,0.8],[12.58,1.51],[12.74,2.22],[12.91,3.2],[13.07,2.4],[13.24,1.87],[13.46,1.96],[13.68,1.6],[13.9,1.87],[14.06,0.89],[14.28,1.96],[14.5,2.4],[14.72,2.22],[14.94,3.29],[15.1,1.87],[15.27,2.4],[15.49,1.96],[15.82,3.73],[16.09,3.2],[16.36,3.56],[16.58,3.73],[16.75,4.36],[16.91,3.82],[17.13,4.09],[17.35,3.29],[17.46,1.69],[17.57,1.51]];
const frNavy: Pt[] = [[19.46,0.62],[19.55,3.73],[19.66,4.84],[19.82,3.47],[19.87,4.18],[19.98,0.4]];
const frMagenta: Pt[] = [[9.21,1.33],[9.29,0.44],[9.51,0.62],[9.67,0.89],[9.84,0.44],[10.0,0.53],[10.22,0.44],[10.44,0.62],[10.66,0.44],[10.88,0.36],[11.04,0.98],[11.2,1.69],[11.37,1.16],[11.54,2.22],[11.7,2.04],[11.87,2.93],[11.98,1.07],[12.14,1.69],[12.3,1.33],[12.52,4.62],[12.63,4.53],[12.8,5.42],[12.96,4.18],[13.13,4.71],[13.24,4.0],[13.35,1.87],[13.46,0.53],[13.62,0.53],[13.79,0.71],[14.06,0.71],[14.28,0.8],[14.5,1.96],[14.72,2.31],[14.94,2.4],[15.1,1.96],[15.27,2.93],[15.43,0.53],[15.54,1.96],[15.71,0.53],[15.93,2.67],[16.09,1.51],[16.25,2.76],[16.42,1.96],[16.53,2.84],[16.64,1.96],[16.86,2.58],[17.02,1.96],[17.13,1.78],[17.3,2.4],[17.46,0.62],[17.62,3.1],[17.79,1.96],[18.0,2.04],[18.17,1.42],[18.34,1.96],[18.5,3.47],[18.67,1.96],[18.83,1.96],[19.05,2.67],[19.22,2.22],[19.38,1.78],[19.55,2.22],[19.71,2.4],[19.82,0.53],[19.93,1.96]];
const frMaroon: Pt[] = [[9.95,0.89],[10.06,0.44],[10.22,0.62],[10.44,0.53],[10.66,0.8],[10.88,0.8],[11.04,1.78],[11.2,0.8],[11.37,1.16],[11.54,1.07],[11.7,1.69],[11.81,3.29],[11.92,0.98],[12.09,1.69],[12.2,3.82],[12.3,0.62],[12.47,2.04],[12.63,0.8],[12.8,2.4],[12.91,4.0],[13.07,5.51],[13.18,5.69],[13.29,4.36],[13.46,5.07],[13.57,5.24],[13.68,0.8],[13.84,0.62],[14.06,0.71],[14.28,0.53],[14.5,0.62],[14.72,0.89],[14.88,1.51],[15.05,2.4],[15.21,1.96],[15.38,2.76],[15.54,1.96],[15.71,0.53],[15.87,1.96],[16.03,0.53],[16.2,2.4],[16.36,0.71],[16.53,1.16],[16.69,0.53],[16.86,0.36],[17.02,1.51],[17.13,2.93],[17.3,2.04],[17.51,1.6],[17.68,0.62],[17.84,3.1],[17.95,4.36],[18.12,2.4],[18.28,2.04],[18.5,2.76],[18.67,1.51],[18.83,2.93],[19.0,2.4],[19.16,2.76],[19.33,2.58],[19.55,3.02],[19.71,2.22],[19.87,1.51],[19.98,0.71]];
const frOlive: Pt[] = [[18.12,4.71],[18.13,3.82],[18.23,3.1],[18.39,2.4],[18.56,2.13],[18.78,2.4],[19.0,2.93],[19.22,3.2],[19.38,3.56],[19.55,3.29],[19.71,3.64],[19.82,3.2]];

// ---------- axis ticks / grid values ----------
const depthTicks = [4, 8, 12, 16, 20, 24, 28, 32, 36];
const depthGrid = [2, 4, 6, 8, 10, 12, 14, 16, 18, 20, 22, 24, 26, 28, 30, 32, 34];
const qnTicks = [0, 20, 40, 60, 80];
const drTicks = [0, 40, 80, 120];
const suTicks = [0, 200, 400, 600, 800];
const icTicks = [1, 2, 3, 4];
const qtTicks = [1, 10, 100, 1000];
const frTicks = [0, 2, 4, 6, 8];
const qnGrid = [10, 20, 30, 40, 50, 60, 70];
const drGrid = [20, 40, 60, 80, 100];
const drClassGrid = [15, 35, 65, 85];
const suGrid = [100, 200, 300, 400, 500, 600, 700];
const icGrid = [2, 3];
const icDashGrid = [1.5, 2.5, 3.5];
const qtMinorGrid = [2, 3, 4, 5, 6, 7, 8, 9, 20, 30, 40, 50, 60, 70, 80, 90, 200, 300, 400, 500, 600, 700, 800, 900];
const qtMajorGrid = [10, 100];
const frGrid = [2, 4, 6];

const COL = {
  grey: '#8a8a8a', black: '#000000', red: '#ff0000', green: '#00ff00', blue: '#0000ff',
  magenta: '#ff00ff', maroon: '#800000', olive: '#808000', navy: '#000080',
};

const FONT = "'Liberation Sans', Arial, Helvetica, sans-serif";
const PAGE_W = 3021;
const PAGE_H = 1451;
const PLOT_TOP = 89;
const PLOT_BOTTOM = 1450;

interface GridSpec { values: number[]; stroke: string; width: number; dash?: string }
interface SeriesSpec { color: string; pts: Pt[] }
interface PanelSpec {
  title: string; left: number; right: number; domain: [number, number];
  scale: 'linear' | 'log'; ticks: number[]; grid: GridSpec[]; series: SeriesSpec[];
}

const GRID_DARK = '#2a2a2a';

const panels: PanelSpec[] = [
  {
    title: 'Net Cone Resistance [MPa]', left: 102, right: 706, domain: [0, 80], scale: 'linear', ticks: qnTicks,
    grid: [{ values: qnGrid, stroke: GRID_DARK, width: 1 }],
    series: [
      { color: COL.grey, pts: qnGrey }, { color: COL.black, pts: qnBlack }, { color: COL.red, pts: qnRed },
      { color: COL.green, pts: qnGreen }, { color: COL.blue, pts: qnBlue }, { color: COL.magenta, pts: qnMagenta },
      { color: COL.maroon, pts: qnMaroon }, { color: COL.olive, pts: qnOlive }, { color: COL.navy, pts: qnNavy },
    ],
  },
  {
    title: 'Relative Density [%]', left: 745, right: 1198, domain: [0, 120], scale: 'linear', ticks: drTicks,
    grid: [{ values: drClassGrid, stroke: '#c4c4c4', width: 3 }, { values: drGrid, stroke: GRID_DARK, width: 1 }],
    series: [
      { color: COL.grey, pts: drGrey }, { color: COL.red, pts: drRed },
      { color: COL.magenta, pts: drMagenta }, { color: COL.maroon, pts: drMaroon },
    ],
  },
  {
    title: 'Undrained Shear Strength [kPa]', left: 1236, right: 1839, domain: [0, 800], scale: 'linear', ticks: suTicks,
    grid: [{ values: suGrid, stroke: GRID_DARK, width: 1 }],
    series: [
      { color: COL.grey, pts: suGreyLo }, { color: COL.grey, pts: suGreyHi },
      { color: COL.black, pts: suBlackLo }, { color: COL.black, pts: suBlackHi },
      { color: COL.red, pts: suRedLo }, { color: COL.red, pts: suRedHi },
      { color: COL.green, pts: suGreenLo }, { color: COL.green, pts: suGreenHi },
      { color: COL.blue, pts: suBlueLo }, { color: COL.blue, pts: suBlueHi },
      { color: COL.magenta, pts: suMagentaLo }, { color: COL.magenta, pts: suMagentaHi },
      { color: COL.maroon, pts: suMaroonLo }, { color: COL.maroon, pts: suMaroonHi },
      { color: COL.olive, pts: suOliveLo }, { color: COL.olive, pts: suOliveHi },
      { color: COL.navy, pts: suNavyLo }, { color: COL.navy, pts: suNavyHi },
    ],
  },
  {
    title: 'Soil Behaviour Type Index [-]', left: 1879, right: 2104, domain: [1, 4], scale: 'linear', ticks: icTicks,
    grid: [{ values: icGrid, stroke: GRID_DARK, width: 1 }, { values: icDashGrid, stroke: '#000', width: 1, dash: '12 9' }],
    series: [
      { color: COL.grey, pts: icGrey }, { color: COL.black, pts: icBlack }, { color: COL.red, pts: icRed },
      { color: COL.green, pts: icGreen }, { color: COL.blue, pts: icBlue }, { color: COL.magenta, pts: icMagenta },
      { color: COL.maroon, pts: icMaroon }, { color: COL.olive, pts: icOlive }, { color: COL.navy, pts: icNavy },
    ],
  },
  {
    title: 'Normalized Cone Resistance [-]', left: 2144, right: 2597, domain: [1, 1000], scale: 'log', ticks: qtTicks,
    grid: [{ values: qtMinorGrid, stroke: '#555', width: 1 }, { values: qtMajorGrid, stroke: '#000', width: 1 }],
    series: [
      { color: COL.grey, pts: qtGrey }, { color: COL.black, pts: qtBlack }, { color: COL.red, pts: qtRed },
      { color: COL.green, pts: qtGreen }, { color: COL.blue, pts: qtBlue }, { color: COL.magenta, pts: qtMagenta },
      { color: COL.maroon, pts: qtMaroon }, { color: COL.olive, pts: qtOlive }, { color: COL.navy, pts: qtNavy },
    ],
  },
  {
    title: 'Normalized Friction Ratio [%]', left: 2635, right: 2935, domain: [0, 8], scale: 'linear', ticks: frTicks,
    grid: [{ values: frGrid, stroke: GRID_DARK, width: 1 }],
    series: [
      { color: COL.grey, pts: frGrey }, { color: COL.black, pts: frBlack }, { color: COL.red, pts: frRed },
      { color: COL.green, pts: frGreen }, { color: COL.blue, pts: frBlue }, { color: COL.magenta, pts: frMagenta },
      { color: COL.maroon, pts: frMaroon }, { color: COL.olive, pts: frOlive }, { color: COL.navy, pts: frNavy },
    ],
  },
];

// split a trace at its null (no-data) entries into separately drawn segments
const toSegments = (pts: Pt[]) => {
  const segs: { d: number; v: number }[][] = [];
  let cur: { d: number; v: number }[] = [];
  for (const [d, v] of pts) {
    if (v === null) {
      if (cur.length) segs.push(cur);
      cur = [];
    } else {
      cur.push({ d, v });
    }
  }
  if (cur.length) segs.push(cur);
  return segs;
};

const TopTick = (p: any) => (
  <text x={p.x} y={p.y} textAnchor="middle" fontFamily={FONT} fontSize={21} fill="#000">
    {p.payload.value}
  </text>
);

const DepthTick = (p: any) => (
  <text x={p.x} y={p.y - 5} textAnchor="end" fontFamily={FONT} fontSize={22} fill="#000">
    {p.payload.value}
  </text>
);

function Panel({ cfg, first }: { cfg: PanelSpec; first: boolean }) {
  const plotW = cfg.right - cfg.left;
  const padL = first ? cfg.left : 34;
  const padR = 34;
  const w = plotW + padL + padR;
  const lines: React.ReactNode[] = [];
  cfg.series.forEach((s, i) => {
    toSegments(s.pts).forEach((seg, j) => {
      lines.push(
        <Line
          key={`s${i}-${j}`}
          data={seg}
          dataKey="v"
          type="linear"
          stroke={s.color}
          strokeWidth={1.6}
          dot={false}
          activeDot={false}
          isAnimationActive={false}
        />
      );
    });
  });
  return (
    <div style={{ position: 'absolute', left: cfg.left - padL, top: 0, width: w, height: PAGE_H }}>
      <LineChart
        width={w}
        height={PAGE_H}
        layout="vertical"
        margin={{ top: 0, right: padR, bottom: PAGE_H - PLOT_BOTTOM, left: first ? 0 : padL }}
      >
        <XAxis
          type="number"
          orientation="top"
          domain={cfg.domain}
          scale={cfg.scale}
          ticks={cfg.ticks}
          interval={0}
          height={PLOT_TOP}
          tickSize={7}
          tickMargin={13}
          axisLine={false}
          tickLine={{ stroke: '#000', strokeWidth: 1 }}
          tick={(p: any) => <TopTick {...p} />}
          allowDataOverflow
        />
        <YAxis
          type="number"
          dataKey="d"
          domain={[0, 36]}
          allowDataOverflow
          hide={!first}
          width={first ? cfg.left : 0}
          ticks={depthTicks}
          interval={0}
          tickSize={0}
          tickMargin={15}
          axisLine={false}
          tickLine={false}
          tick={(p: any) => <DepthTick {...p} />}
        />
        {cfg.grid.map((g, gi) =>
          g.values.map((v) => (
            <ReferenceLine
              key={`g${gi}-${v}`}
              x={v}
              stroke={g.stroke}
              strokeWidth={g.width}
              strokeDasharray={g.dash}
              isFront={false}
            />
          ))
        )}
        {depthGrid.map((d) => (
          <ReferenceLine key={`h${d}`} y={d} stroke={GRID_DARK} strokeWidth={1} isFront={false} />
        ))}
        {lines}
      </LineChart>
      <div
        style={{
          position: 'absolute',
          left: padL - 1.5,
          top: PLOT_TOP - 1.5,
          width: plotW + 3,
          height: PLOT_BOTTOM - PLOT_TOP + 3,
          border: '3px solid #000',
          boxSizing: 'border-box',
          pointerEvents: 'none',
        }}
      />
    </div>
  );
}

export default function App() {
  return (
    <div style={{ position: 'absolute', left: 0, top: 0, width: PAGE_W, height: PAGE_H, background: '#fff', fontFamily: FONT, overflow: 'hidden' }}>
      {panels.map((cfg, i) => (
        <Panel key={cfg.title} cfg={cfg} first={i === 0} />
      ))}
      {panels.map((cfg) => {
        const c = (cfg.left + cfg.right) / 2;
        return (
          <div
            key={`t-${cfg.title}`}
            style={{
              position: 'absolute', left: c - 300, width: 600, top: 12, lineHeight: '24px',
              fontSize: 22, textAlign: 'center', whiteSpace: 'nowrap', color: '#000', fontFamily: FONT,
            }}
          >
            {cfg.title}
          </div>
        );
      })}
      <div
        style={{
          position: 'absolute', left: 27 - 200, top: 758 - 12, width: 400, lineHeight: '24px',
          fontSize: 22, textAlign: 'center', whiteSpace: 'nowrap', transform: 'rotate(-90deg)', color: '#000', fontFamily: FONT,
        }}
      >
        Depth Below Seafloor [m]
      </div>
      <div
        style={{
          position: 'absolute', left: 36 - 50, top: 1420 - 9, width: 100, lineHeight: '18px',
          fontSize: 16, textAlign: 'center', whiteSpace: 'nowrap', transform: 'rotate(-90deg)', color: '#000', fontFamily: FONT,
        }}
      >
        1:39:49
      </div>
    </div>
  );
}
